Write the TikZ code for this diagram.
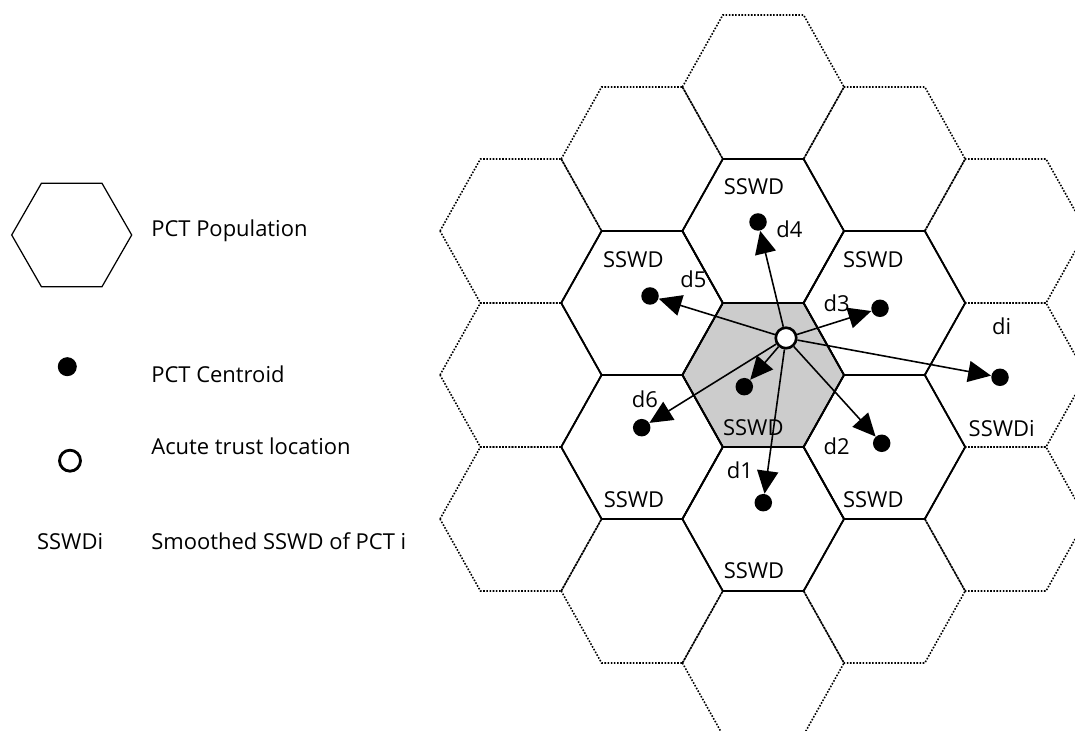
\documentclass[tikz,border=0pt]{standalone}
\usepackage{fontspec}
\setmainfont{Open Sans}
\usetikzlibrary{arrows.meta}

\begin{document}
\begin{tikzpicture}[
    font=\fontsize{12.5}{15}\selectfont,
    gridHex/.style={dash pattern=on 0.9pt off 0.9pt, line width=0.9pt},
    pctHex/.style={line width=1pt},
    centroid/.style={circle, fill=black, inner sep=0pt, minimum size=0.35cm},
    trustLoc/.style={circle, draw, fill=white, line width=1.5pt, inner sep=0pt, minimum size=0.41cm},
    distArrow/.style={line width=0.9pt, -{Triangle[length=13pt, width=12pt]}},
    legendText/.style={anchor=base west, inner sep=0pt}
]
\useasboundingbox (0,0) rectangle (21.5,14.62);
\clip (0,0) rectangle (21.5,14.62);

% legend
\draw[line width=0.7pt] (0.234,9.92) -- (0.828,10.954) -- (2.04,10.954) -- (2.634,9.92) -- (2.04,8.886) -- (0.828,8.886) -- cycle;
\node[legendText] (legendPopulation) at (3.02,9.886) {PCT Population};
\node[centroid, minimum size=0.38cm] (legendDot) at (1.346,7.286) {};
\node[legendText] (legendCentroid) at (3.02,6.974) {PCT Centroid};
\node[trustLoc, line width=1.6pt, minimum size=0.42cm] (legendTrust) at (1.40,5.406) {};
\node[legendText] (legendAcute) at (3.02,5.534) {Acute trust location};
\node[legendText] (legendKey) at (0.734,3.62) {SSWDi};
\node[legendText] (legendSmoothed) at (3.02,3.62) {Smoothed SSWD of PCT i};

% home PCT shading
\fill[gray!40] (13.648,7.12) -- (14.456,8.56) -- (16.072,8.56) -- (16.88,7.12) -- (16.072,5.68) -- (14.456,5.68) -- cycle;

% surrounding PCTs
\draw[gridHex] (8.8,10) -- (9.608,11.44) -- (11.224,11.44) -- (12.032,10) -- (11.224,8.56) -- (9.608,8.56) -- cycle;
\draw[gridHex] (8.8,7.12) -- (9.608,8.56) -- (11.224,8.56) -- (12.032,7.12) -- (11.224,5.68) -- (9.608,5.68) -- cycle;
\draw[gridHex] (8.8,4.24) -- (9.608,5.68) -- (11.224,5.68) -- (12.032,4.24) -- (11.224,2.8) -- (9.608,2.8) -- cycle;

\draw[gridHex] (11.224,11.44) -- (12.032,12.88) -- (13.648,12.88) -- (14.456,11.44) -- (13.648,10) -- (12.032,10) -- cycle;
\draw[gridHex] (11.224,8.56) -- (12.032,10) -- (13.648,10) -- (14.456,8.56) -- (13.648,7.12) -- (12.032,7.12) -- cycle;
\draw[gridHex] (11.224,5.68) -- (12.032,7.12) -- (13.648,7.12) -- (14.456,5.68) -- (13.648,4.24) -- (12.032,4.24) -- cycle;
\draw[gridHex] (11.224,2.8) -- (12.032,4.24) -- (13.648,4.24) -- (14.456,2.8) -- (13.648,1.36) -- (12.032,1.36) -- cycle;

\draw[gridHex] (13.648,12.88) -- (14.456,14.32) -- (16.072,14.32) -- (16.88,12.88) -- (16.072,11.44) -- (14.456,11.44) -- cycle;
\draw[gridHex] (13.648,10) -- (14.456,11.44) -- (16.072,11.44) -- (16.88,10) -- (16.072,8.56) -- (14.456,8.56) -- cycle;
\draw[gridHex] (13.648,7.12) -- (14.456,8.56) -- (16.072,8.56) -- (16.88,7.12) -- (16.072,5.68) -- (14.456,5.68) -- cycle;
\draw[gridHex] (13.648,4.24) -- (14.456,5.68) -- (16.072,5.68) -- (16.88,4.24) -- (16.072,2.8) -- (14.456,2.8) -- cycle;
\draw[gridHex] (13.648,1.36) -- (14.456,2.8) -- (16.072,2.8) -- (16.88,1.36) -- (16.072,-0.08) -- (14.456,-0.08) -- cycle;

\draw[gridHex] (16.072,11.44) -- (16.88,12.88) -- (18.496,12.88) -- (19.304,11.44) -- (18.496,10) -- (16.88,10) -- cycle;
\draw[gridHex] (16.072,8.56) -- (16.88,10) -- (18.496,10) -- (19.304,8.56) -- (18.496,7.12) -- (16.88,7.12) -- cycle;
\draw[gridHex] (16.072,5.68) -- (16.88,7.12) -- (18.496,7.12) -- (19.304,5.68) -- (18.496,4.24) -- (16.88,4.24) -- cycle;
\draw[gridHex] (16.072,2.8) -- (16.88,4.24) -- (18.496,4.24) -- (19.304,2.8) -- (18.496,1.36) -- (16.88,1.36) -- cycle;

\draw[gridHex] (18.496,10) -- (19.304,11.44) -- (20.92,11.44) -- (21.728,10) -- (20.92,8.56) -- (19.304,8.56) -- cycle;
\draw[gridHex] (18.496,7.12) -- (19.304,8.56) -- (20.92,8.56) -- (21.728,7.12) -- (20.92,5.68) -- (19.304,5.68) -- cycle;
\draw[gridHex] (18.496,4.24) -- (19.304,5.68) -- (20.92,5.68) -- (21.728,4.24) -- (20.92,2.8) -- (19.304,2.8) -- cycle;

% home PCT and its neighbours
\draw[pctHex] (13.648,10) -- (14.456,11.44) -- (16.072,11.44) -- (16.88,10) -- (16.072,8.56) -- (14.456,8.56) -- cycle;
\draw[pctHex] (11.224,8.56) -- (12.032,10) -- (13.648,10) -- (14.456,8.56) -- (13.648,7.12) -- (12.032,7.12) -- cycle;
\draw[pctHex] (16.072,8.56) -- (16.88,10) -- (18.496,10) -- (19.304,8.56) -- (18.496,7.12) -- (16.88,7.12) -- cycle;
\draw[pctHex] (13.648,7.12) -- (14.456,8.56) -- (16.072,8.56) -- (16.88,7.12) -- (16.072,5.68) -- (14.456,5.68) -- cycle;
\draw[pctHex] (11.224,5.68) -- (12.032,7.12) -- (13.648,7.12) -- (14.456,5.68) -- (13.648,4.24) -- (12.032,4.24) -- cycle;
\draw[pctHex] (16.072,5.68) -- (16.88,7.12) -- (18.496,7.12) -- (19.304,5.68) -- (18.496,4.24) -- (16.88,4.24) -- cycle;
\draw[pctHex] (13.648,4.24) -- (14.456,5.68) -- (16.072,5.68) -- (16.88,4.24) -- (16.072,2.8) -- (14.456,2.8) -- cycle;

\node (sswdTop) at (15.08,10.88) {SSWD};
\node (sswdUpperLeft) at (12.666,9.42) {SSWD};
\node (sswdUpperRight) at (17.466,9.42) {SSWD};
\node (sswdHome) at (15.066,6.074) {SSWD};
\node (sswdLowerLeft) at (12.68,4.634) {SSWD};
\node (sswdLowerRight) at (17.466,4.62) {SSWD};
\node (sswdBottom) at (15.08,3.2) {SSWD};
\node (sswdI) at (20.034,6.054) {SSWDi};

% centroids and trust
\node[centroid] (centroidD4) at (15.16,10.18) {};
\node[centroid] (centroidD5) at (13.0,8.7) {};
\node[centroid] (centroidD3) at (17.6,8.454) {};
\node[centroid] (centroidHome) at (14.886,6.886) {};
\node[centroid] (centroidD6) at (12.834,6.066) {};
\node[centroid] (centroidD2) at (17.634,5.754) {};
\node[centroid] (centroidD1) at (15.266,4.566) {};
\node[centroid] (centroidDi) at (20.0,7.074) {};
\node[trustLoc] (acuteTrust) at (15.72,7.86) {};

\draw[distArrow] (acuteTrust) -- (centroidD4);
\draw[distArrow] (acuteTrust) -- (centroidD5);
\draw[distArrow] (acuteTrust) -- (centroidD3);
\draw[distArrow] (acuteTrust) -- (centroidHome);
\draw[distArrow] (acuteTrust) -- (centroidD6);
\draw[distArrow] (acuteTrust) -- (centroidD2);
\draw[distArrow] (acuteTrust) -- (centroidD1);
\draw[distArrow] (acuteTrust) -- (centroidDi);

\node (labelD4) at (15.786,10.026) {d4};
\node (labelD5) at (13.866,9.034) {d5};
\node (labelD3) at (16.734,8.554) {d3};
\node (labelD6) at (12.9,6.634) {d6};
\node (labelD2) at (16.734,5.686) {d2};
\node (labelD1) at (14.8,5.22) {d1};
\node (labelDi) at (20.034,8.086) {di};

\end{tikzpicture}
\end{document}
